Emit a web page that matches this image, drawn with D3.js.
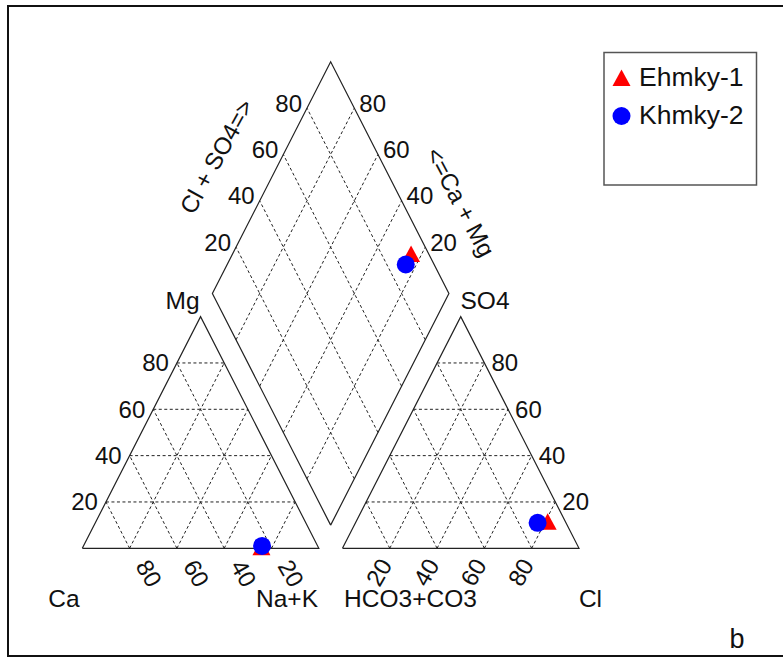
<!DOCTYPE html>
<html>
<head>
<meta charset="utf-8">
<script src="https://cdn.jsdelivr.net/npm/d3@7"></script>
<style>
  body { margin: 0; background: #fff; }
  svg text { font-family: "Liberation Sans", Arial, sans-serif; fill: #111; }
</style>
</head>
<body>
<div id="piper"></div>
<script>
// Piper diagram: cation / anion triangles and the central diamond

// sample names and percentages (meq %)
const samples = ["Ehmky-1", "Khmky-2"];
const caPct = [24, 23.5];
const mgPct = [0.5, 1];
const naKPct = [75.5, 75.5];
const hco3Pct = [7.5, 12];
const so4Pct = [11.5, 11];
const clPct = [81, 77];

const tickVals = [20, 40, 60, 80];
const sampleColors = ["#ff0000", "#0000ff"];
const sampleSymbols = ["triangle", "circle"];

const width = 783, height = 657;
const H = Math.sqrt(3) / 2;
const gap = 0.1;

const svg = d3.select("#piper")
  .append("svg")
  .attr("width", width)
  .attr("height", height);

// outer frame
svg.append("rect")
  .attr("x", 8).attr("y", 6)
  .attr("width", 820).attr("height", 650)
  .attr("fill", "none")
  .attr("stroke", "#111")
  .attr("stroke-width", 2);

// data-unit scales (triangles have side 1, the plot is a bit stretched vertically)
const x = d3.scaleLinear().domain([0, 2 + gap]).range([82.3, 579]);
const y = d3.scaleLinear().domain([0, (2 + gap) * H]).range([548.3, 61.8]);

const line = d3.line().x(d => x(d[0])).y(d => y(d[1]));

// coordinate helpers
const cation = (mg, nak) => [nak + mg / 2, mg * H];
const anion = (so4, cl) => [1 + gap + cl + so4 / 2, so4 * H];
const B = [1 + gap / 2, gap * H];
const diamond = (camg, clso4) => [B[0] + 0.5 * (clso4 - camg), B[1] + H * (clso4 + camg)];

const gGrid = svg.append("g");
const gOut = svg.append("g");

function dashed(a, b) {
  gGrid.append("path")
    .attr("d", line([a, b]))
    .attr("fill", "none")
    .attr("stroke", "#222")
    .attr("stroke-width", 1)
    .attr("stroke-dasharray", "3,2.5");
}

// grid lines
tickVals.forEach(t => {
  const f = t / 100;
  // left triangle
  dashed(cation(f, 0), cation(f, 1 - f));            // const Mg
  dashed(cation(0, 1 - f), cation(1 - f, 0));        // const Ca
  dashed(cation(0, f), cation(1 - f, f));            // const Na+K
  // right triangle
  dashed(anion(f, 0), anion(f, 1 - f));              // const SO4
  dashed(anion(0, 1 - f), anion(1 - f, 0));          // const HCO3
  dashed(anion(0, f), anion(1 - f, f));              // const Cl
  // diamond
  dashed(diamond(0, f), diamond(1, f));
  dashed(diamond(f, 0), diamond(f, 1));
});

// outlines
const outlines = [
  [cation(0, 0), cation(0, 1), cation(1, 0), cation(0, 0)],
  [anion(0, 0), anion(0, 1), anion(1, 0), anion(0, 0)],
  [diamond(0, 0), diamond(1, 0), diamond(1, 1), diamond(0, 1), diamond(0, 0)]
];
gOut.selectAll("path")
  .data(outlines)
  .join("path")
  .attr("d", d => line(d))
  .attr("fill", "none")
  .attr("stroke", "#222")
  .attr("stroke-width", 1.2);

// tick labels
const gLab = svg.append("g").style("font-size", "24px");

tickVals.forEach(t => {
  const f = t / 100;
  // Mg on left edge of cation triangle
  let p = cation(f, 0);
  gLab.append("text").attr("x", x(p[0]) - 8).attr("y", y(p[1]))
    .attr("text-anchor", "end").attr("dominant-baseline", "central").text(t);
  // SO4 on right edge of anion triangle
  p = anion(f, 1 - f);
  gLab.append("text").attr("x", x(p[0]) + 7).attr("y", y(p[1]))
    .attr("text-anchor", "start").attr("dominant-baseline", "central").text(t);
  // Ca along bottom of cation triangle
  p = cation(0, 1 - f);
  gLab.append("text")
    .attr("transform", `translate(${x(p[0]) + 19.5},${y(p[1]) + 25}) rotate(60)`)
    .attr("text-anchor", "middle").attr("dominant-baseline", "central").text(t);
  // Cl along bottom of anion triangle
  p = anion(0, f);
  gLab.append("text")
    .attr("transform", `translate(${x(p[0]) - 11},${y(p[1]) + 24}) rotate(-60)`)
    .attr("text-anchor", "middle").attr("dominant-baseline", "central").text(t);
  // diamond upper-left edge (Cl + SO4)
  p = diamond(1, f);
  gLab.append("text").attr("x", x(p[0]) - 5).attr("y", y(p[1]) - 5)
    .attr("text-anchor", "end").attr("dominant-baseline", "central").text(t);
  // diamond upper-right edge (Ca + Mg)
  p = diamond(f, 1);
  gLab.append("text").attr("x", x(p[0]) + 5).attr("y", y(p[1]) - 5)
    .attr("text-anchor", "start").attr("dominant-baseline", "central").text(t);
});

// corner and axis labels
const labels = [
  { t: "Mg", x: 182.5, y: 308.5 },
  { t: "SO4", x: 485, y: 308.5 },
  { t: "Ca", x: 64, y: 607 },
  { t: "Na+K", x: 287, y: 607 },
  { t: "HCO3+CO3", x: 410.5, y: 607 },
  { t: "Cl", x: 590.5, y: 607 }
];
svg.append("g").style("font-size", "24.5px")
  .selectAll("text")
  .data(labels)
  .join("text")
  .attr("x", d => d.x)
  .attr("y", d => d.y)
  .attr("text-anchor", "middle")
  .text(d => d.t);

svg.append("text")
  .attr("transform", "translate(216.5,156.5) rotate(-61)")
  .attr("text-anchor", "middle").attr("dominant-baseline", "central")
  .style("font-size", "24px")
  .text("Cl + SO4=>");

svg.append("text")
  .attr("transform", "translate(460.5,202) rotate(62)")
  .attr("text-anchor", "middle").attr("dominant-baseline", "central")
  .style("font-size", "24px")
  .text("<=Ca + Mg");

svg.append("text")
  .attr("x", 737).attr("y", 648)
  .attr("text-anchor", "middle")
  .style("font-size", "27px")
  .text("b");

// markers
function marker(sel, kind, color) {
  if (kind === "circle") {
    sel.append("circle").attr("r", 9).attr("fill", color);
  } else {
    sel.append("path").attr("d", "M0,-8.5L9,8L-9,8Z").attr("fill", color);
  }
}

samples.forEach((name, i) => {
  const camg = (caPct[i] + mgPct[i]) / 100;
  const clso4 = (clPct[i] + so4Pct[i]) / 100;
  const pts = [
    cation(mgPct[i] / 100, naKPct[i] / 100),
    anion(so4Pct[i] / 100, clPct[i] / 100),
    diamond(camg, clso4)
  ];
  pts.forEach(p => {
    const g = svg.append("g").attr("transform", `translate(${x(p[0])},${y(p[1])})`);
    marker(g, sampleSymbols[i], sampleColors[i]);
  });
});

// legend
const legend = svg.append("g");
legend.append("rect")
  .attr("x", 604).attr("y", 52.5)
  .attr("width", 152.5).attr("height", 132.5)
  .attr("fill", "#fff")
  .attr("stroke", "#555")
  .attr("stroke-width", 1.5);

samples.forEach((name, i) => {
  const cy = 78 + i * 38;
  const g = legend.append("g").attr("transform", `translate(621.5,${cy})`);
  marker(g, sampleSymbols[i], sampleColors[i]);
  legend.append("text")
    .attr("x", 639).attr("y", cy + 7.5)
    .style("font-size", "26.5px")
    .text(name);
});
</script>
</body>
</html>
